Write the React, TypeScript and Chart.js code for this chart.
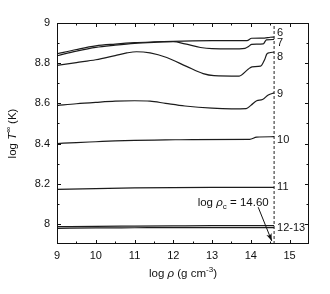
import React, { useEffect, useRef } from "react";
import { Chart, registerables } from "chart.js";

Chart.register(...registerables);

// ---- data ----
const curve6X = [9, 9.5, 10, 10.5, 11, 11.5, 12, 12.5, 13, 13.5, 13.9, 14.02, 14.35, 14.5, 14.6];
const curve6Y = [8.847, 8.868, 8.886, 8.895, 8.902, 8.906, 8.909, 8.911, 8.912, 8.912, 8.912, 8.924, 8.925, 8.929, 8.93];

const curve7X = [9, 9.5, 10, 10.5, 11, 11.5, 12.0, 12.3, 12.7, 13.0, 13.5, 13.85, 13.95, 14.02, 14.32, 14.4, 14.6];
const curve7Y = [8.837, 8.86, 8.879, 8.89, 8.899, 8.904, 8.907, 8.896, 8.878, 8.872, 8.871, 8.874, 8.884, 8.894, 8.896, 8.916, 8.918];

const curve8X = [9, 9.5, 10, 10.5, 10.8, 11.05, 11.4, 11.83, 12.34, 12.77, 13.05, 13.7, 13.93, 14.03, 14.25, 14.36, 14.41, 14.48, 14.6];
const curve8Y = [8.789, 8.803, 8.817, 8.838, 8.851, 8.857, 8.851, 8.828, 8.784, 8.748, 8.738, 8.736, 8.77, 8.782, 8.785, 8.82, 8.845, 8.852, 8.855];

const curve9X = [9, 9.5, 10, 10.5, 11, 11.4, 11.8, 12.3, 13.0, 13.5, 13.88, 14.0, 14.15, 14.3, 14.45, 14.6];
const curve9Y = [8.589, 8.598, 8.605, 8.611, 8.613, 8.611, 8.6, 8.587, 8.576, 8.573, 8.574, 8.59, 8.613, 8.619, 8.642, 8.652];

const curve10X = [9, 9.5, 10, 10.5, 11, 11.8, 12.5, 13.97, 14.15, 14.6];
const curve10Y = [8.4, 8.405, 8.409, 8.413, 8.416, 8.418, 8.42, 8.421, 8.432, 8.434];

const curve11X = [9, 10, 11, 12, 13, 14.6];
const curve11Y = [8.172, 8.176, 8.179, 8.181, 8.182, 8.182];

const curve12X = [9, 10, 11, 12, 13, 14.6];
const curve12Y = [7.978, 7.98, 7.981, 7.982, 7.982, 7.982];

const curve13X = [9, 10, 11, 12, 13, 14.6];
const curve13Y = [7.986, 7.988, 7.989, 7.99, 7.991, 7.991];

const curveLabels = ["6", "7", "8", "9", "10", "11", "12-13"];
const curveLabelY = [8.95, 8.9, 8.833, 8.647, 8.417, 8.182, 7.98];

const logRhoC = 14.6;
const annotationText = "14.60";
const annotationAnchor = { x: 14.46, y: 8.091 };
const arrowFrom = { x: 14.19, y: 8.083 };
const arrowTo = { x: 14.54, y: 7.915 };

const xMin = 9;
const xMax = 15.5;
const yMin = 7.9;
const yMax = 9;
const xTickValues = [9, 10, 11, 12, 13, 14, 15];
const xTickLabels = ["9", "10", "11", "12", "13", "14", "15"];
const xMinorValues = [9.5, 10.5, 11.5, 12.5, 13.5, 14.5];
const yTickValues = [8, 8.2, 8.4, 8.6, 8.8, 9];
const yTickLabels = ["8", "8.2", "8.4", "8.6", "8.8", "9"];
const yMinorValues = [8.1, 8.3, 8.5, 8.7, 8.9];

const FONT = '"Liberation Sans", Arial, Helvetica, sans-serif';
const INK = "#111";

function zip(xs: number[], ys: number[]) {
  return xs.map((x, i) => ({ x, y: ys[i] }));
}

type Seg = { t: string; italic?: boolean; sub?: boolean; sup?: boolean };

function drawRich(ctx: CanvasRenderingContext2D, segs: Seg[], x: number, y: number, size: number, align: "left" | "center" | "right") {
  const fontFor = (s: Seg) => {
    const sz = s.sub || s.sup ? size * 0.7 : size;
    return `${s.italic ? "italic " : ""}${sz}px ${FONT}`;
  };
  let total = 0;
  const widths = segs.map((s) => {
    ctx.font = fontFor(s);
    const w = ctx.measureText(s.t).width;
    total += w;
    return w;
  });
  let cx = align === "left" ? x : align === "center" ? x - total / 2 : x - total;
  ctx.textAlign = "left";
  ctx.textBaseline = "alphabetic";
  segs.forEach((s, i) => {
    ctx.font = fontFor(s);
    let dy = 0;
    if (s.sub) dy = size * 0.25;
    if (s.sup) dy = -size * 0.4;
    ctx.fillText(s.t, cx, y + dy);
    cx += widths[i];
  });
}

const decorPlugin = {
  id: "decor",
  afterDraw(chart: any) {
    const { ctx, chartArea: a, scales } = chart;
    const xs = scales.x;
    const ys = scales.y;
    ctx.save();
    ctx.strokeStyle = INK;
    ctx.fillStyle = INK;
    ctx.lineWidth = 1;
    // frame
    ctx.strokeRect(Math.round(a.left) + 0.5, Math.round(a.top) + 0.5, Math.round(a.right - a.left) - 1, Math.round(a.bottom - a.top) - 1);
    // ticks
    const major = 4;
    const minor = 2.5;
    ctx.beginPath();
    const xt = (v: number, len: number) => {
      const px = Math.round(xs.getPixelForValue(v)) + 0.5;
      ctx.moveTo(px, a.bottom);
      ctx.lineTo(px, a.bottom - len);
      ctx.moveTo(px, a.top);
      ctx.lineTo(px, a.top + len);
    };
    const yt = (v: number, len: number) => {
      const py = Math.round(ys.getPixelForValue(v)) + 0.5;
      ctx.moveTo(a.left, py);
      ctx.lineTo(a.left + len, py);
      ctx.moveTo(a.right, py);
      ctx.lineTo(a.right - len, py);
    };
    xTickValues.forEach((v) => xt(v, major));
    xMinorValues.forEach((v) => xt(v, minor));
    yTickValues.forEach((v) => yt(v, major));
    yMinorValues.forEach((v) => yt(v, minor));
    ctx.stroke();

    // curve labels
    ctx.font = `11px ${FONT}`;
    ctx.textAlign = "left";
    ctx.textBaseline = "middle";
    const lx = xs.getPixelForValue(logRhoC) + 3;
    curveLabels.forEach((t, i) => {
      ctx.fillText(t, lx, ys.getPixelForValue(curveLabelY[i]));
    });

    // annotation
    drawRich(
      ctx,
      [{ t: "log " }, { t: "ρ", italic: true }, { t: "c", sub: true }, { t: " = " + annotationText }],
      xs.getPixelForValue(annotationAnchor.x),
      ys.getPixelForValue(annotationAnchor.y),
      11.5,
      "right"
    );
    const x1 = xs.getPixelForValue(arrowFrom.x);
    const y1 = ys.getPixelForValue(arrowFrom.y);
    const x2 = xs.getPixelForValue(arrowTo.x);
    const y2 = ys.getPixelForValue(arrowTo.y);
    ctx.beginPath();
    ctx.moveTo(x1, y1);
    ctx.lineTo(x2, y2);
    ctx.stroke();
    const ang = Math.atan2(y2 - y1, x2 - x1);
    const hl = 8;
    const hw = 0.35;
    ctx.beginPath();
    ctx.moveTo(x2, y2);
    ctx.lineTo(x2 - hl * Math.cos(ang - hw), y2 - hl * Math.sin(ang - hw));
    ctx.lineTo(x2 - hl * 0.7 * Math.cos(ang), y2 - hl * 0.7 * Math.sin(ang));
    ctx.lineTo(x2 - hl * Math.cos(ang + hw), y2 - hl * Math.sin(ang + hw));
    ctx.closePath();
    ctx.fill();

    // axis titles
    const cxm = (a.left + a.right) / 2;
    drawRich(
      ctx,
      [{ t: "log " }, { t: "ρ", italic: true }, { t: " (g cm" }, { t: "-3", sup: true }, { t: ")" }],
      cxm,
      a.bottom + 33,
      11.5,
      "center"
    );
    const cym = (a.top + a.bottom) / 2;
    ctx.translate(0, cym);
    ctx.rotate(-Math.PI / 2);
    drawRich(
      ctx,
      [{ t: "log " }, { t: "T", italic: true }, { t: "∞", sup: true }, { t: " (K)" }],
      0,
      15.5,
      11.5,
      "center"
    );
    ctx.restore();
  },
};

export default function App() {
  const ref = useRef<HTMLCanvasElement | null>(null);
  useEffect(() => {
    document.body.style.margin = "0";
    if (!ref.current) return;
    const curves = [
      [curve6X, curve6Y],
      [curve7X, curve7Y],
      [curve8X, curve8Y],
      [curve9X, curve9Y],
      [curve10X, curve10Y],
      [curve11X, curve11Y],
      [curve12X, curve12Y],
      [curve13X, curve13Y],
    ];
    const datasets: any[] = curves.map(([xs, ys]) => ({
      data: zip(xs, ys),
      borderColor: "#1c1c1c",
      borderWidth: 1.2,
      pointRadius: 0,
      cubicInterpolationMode: "monotone",
      fill: false,
    }));
    datasets.push({
      data: [
        { x: logRhoC, y: yMin },
        { x: logRhoC, y: yMax },
      ],
      borderColor: "#222",
      borderWidth: 1,
      borderDash: [3, 2],
      pointRadius: 0,
      fill: false,
    });
    const chart = new Chart(ref.current, {
      type: "line",
      data: { datasets },
      options: {
        animation: false,
        responsive: false,
        devicePixelRatio: 1,
        layout: { padding: { top: 23, right: 21, left: 0, bottom: 0 } },
        plugins: { legend: { display: false }, tooltip: { enabled: false } },
        scales: {
          x: {
            type: "linear",
            min: xMin,
            max: xMax,
            grid: { display: false, drawTicks: false },
            border: { display: false },
            afterBuildTicks: (s: any) => {
              s.ticks = xTickValues.map((v) => ({ value: v }));
            },
            afterFit: (s: any) => {
              s.height = 50;
            },
            ticks: {
              padding: 5,
              color: INK,
              font: { family: FONT, size: 11 },
              maxRotation: 0,
              autoSkip: false,
              callback: (v: any) => {
                const i = xTickValues.indexOf(Number(v));
                return i >= 0 ? xTickLabels[i] : "";
              },
            },
          },
          y: {
            type: "linear",
            min: yMin,
            max: yMax,
            grid: { display: false, drawTicks: false },
            border: { display: false },
            afterBuildTicks: (s: any) => {
              s.ticks = yTickValues.map((v) => ({ value: v }));
            },
            afterFit: (s: any) => {
              s.width = 57;
            },
            ticks: {
              padding: 7,
              color: INK,
              font: { family: FONT, size: 11 },
              autoSkip: false,
              callback: (v: any) => {
                const i = yTickValues.findIndex((t) => Math.abs(t - Number(v)) < 1e-6);
                return i >= 0 ? yTickLabels[i] : "";
              },
            },
          },
        },
      },
      plugins: [decorPlugin],
    });
    return () => chart.destroy();
  }, []);
  return (
    <div style={{ position: "absolute", left: 0, top: 0, width: 330, height: 294, background: "#fff" }}>
      <canvas ref={ref} width={330} height={294} style={{ width: 330, height: 294 }} />
    </div>
  );
}
